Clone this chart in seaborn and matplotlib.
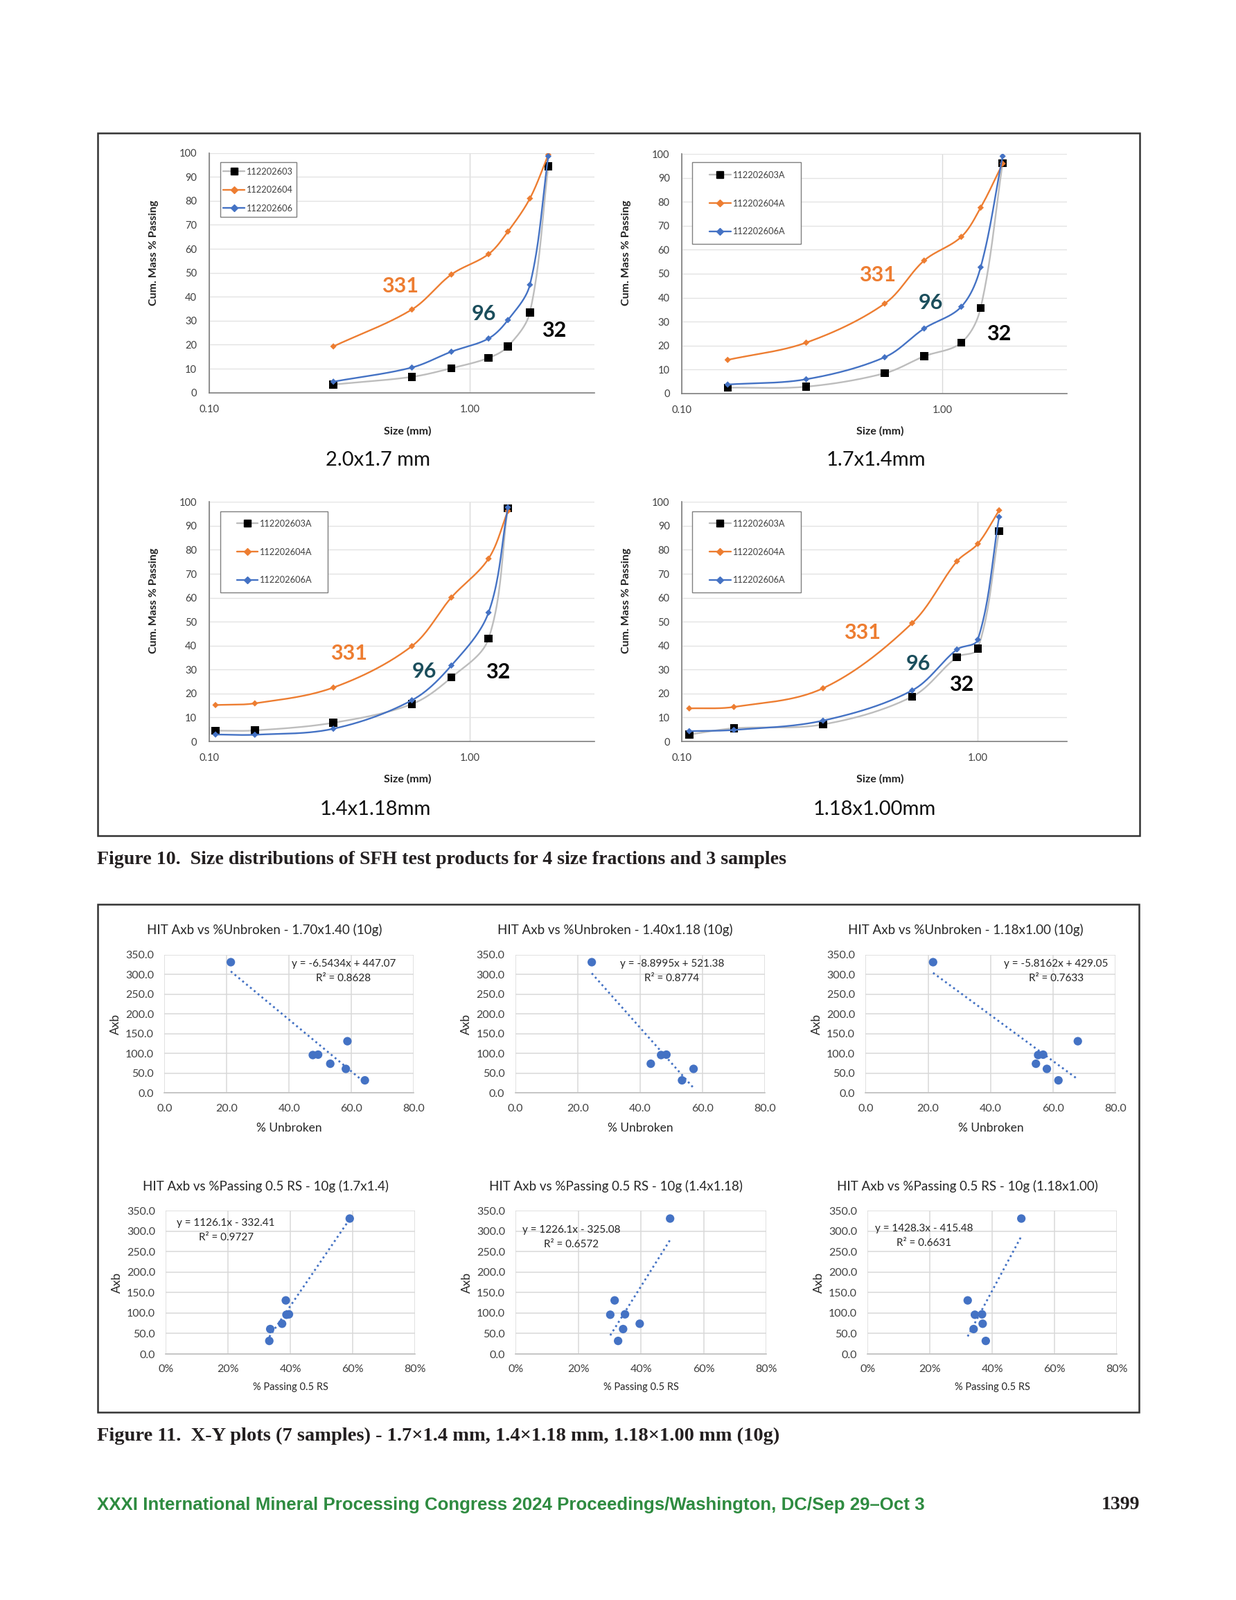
import numpy as np
import matplotlib
matplotlib.use("Agg")
import matplotlib.pyplot as plt
from matplotlib import font_manager
from matplotlib.lines import Line2D
from matplotlib.patches import Rectangle
from matplotlib.ticker import MultipleLocator, LogLocator, FixedLocator, FuncFormatter, PercentFormatter
import seaborn as sns

# -----------------------------
# Figure 10 data: cumulative % passing vs size (mm)
# -----------------------------
sizes_20x17 = [0.3, 0.6, 0.85, 1.18, 1.4, 1.7, 2.0]
p603_20x17 = [3.4, 6.6, 10.2, 14.5, 19.3, 33.5, 94.4]
p604_20x17 = [19.3, 34.7, 49.3, 57.8, 67.2, 81.0, 99.2]
p606_20x17 = [4.6, 10.5, 17.1, 22.6, 30.3, 45.0, 98.6]

sizes_17x14 = [0.15, 0.3, 0.6, 0.85, 1.18, 1.4, 1.7]
p603_17x14 = [2.4, 2.8, 8.4, 15.5, 21.2, 35.7, 96.2]
p604_17x14 = [14.0, 21.2, 37.5, 55.5, 65.4, 77.6, 96.0]
p606_17x14 = [3.7, 5.9, 15.1, 27.1, 36.2, 52.7, 99.1]

sizes_14x118 = [0.106, 0.15, 0.3, 0.6, 0.85, 1.18, 1.4]
p603_14x118 = [4.5, 4.6, 7.8, 15.6, 26.7, 42.9, 97.4]
p604_14x118 = [15.2, 15.9, 22.5, 39.8, 60.1, 76.3, 96.2]
p606_14x118 = [2.9, 2.8, 5.3, 17.2, 31.7, 53.8, 97.7]

sizes_118x100 = [0.106, 0.15, 0.3, 0.6, 0.85, 1.0, 1.18]
p603_118x100 = [2.9, 5.5, 7.1, 18.7, 35.2, 38.7, 87.8]
p604_118x100 = [13.8, 14.4, 22.2, 49.4, 75.2, 82.5, 96.5]
p606_118x100 = [4.3, 4.8, 8.7, 21.3, 38.4, 42.5, 93.7]

samples_plain = ["112202603", "112202604", "112202606"]
samples_a = ["112202603A", "112202604A", "112202606A"]
curve_labels = ["331", "96", "32"]

# -----------------------------
# Figure 11 data: Axb vs % unbroken / % passing 0.5 RS (7 samples)
# -----------------------------
axb = [331, 131, 96, 97, 74, 61, 32]
unbroken_170x140 = [21.3, 58.7, 47.6, 49.3, 53.2, 58.2, 64.3]
unbroken_140x118 = [24.5, np.nan, 46.7, 48.4, 43.4, 57.1, 53.4]
unbroken_118x100 = [21.6, 67.9, 55.2, 56.8, 54.5, 58.0, 61.7]
pass05_17x14 = [0.590, 0.385, 0.387, 0.395, 0.373, 0.335, 0.332]
pass05_14x118 = [0.493, 0.316, 0.302, 0.349, 0.396, 0.343, 0.327]
pass05_118x100 = [0.493, 0.321, 0.344, 0.367, 0.369, 0.340, 0.379]

eq_texts = ["y = -6.5434x + 447.07", "y = -8.8995x + 521.38", "y = -5.8162x + 429.05",
            "y = 1126.1x - 332.41", "y = 1226.1x - 325.08", "y = 1428.3x - 415.48"]
r2_texts = ["R² = 0.8628", "R² = 0.8774", "R² = 0.7633",
            "R² = 0.9727", "R² = 0.6572", "R² = 0.6631"]
scatter_titles = ["HIT Axb vs %Unbroken - 1.70x1.40 (10g)",
                  "HIT Axb vs %Unbroken - 1.40x1.18 (10g)",
                  "HIT Axb vs %Unbroken - 1.18x1.00 (10g)",
                  "HIT Axb vs %Passing 0.5 RS - 10g (1.7x1.4)",
                  "HIT Axb vs %Passing 0.5 RS - 10g (1.4x1.18)",
                  "HIT Axb vs %Passing 0.5 RS - 10g (1.18x1.00)"]

# -----------------------------
# Fonts / colours
# -----------------------------
sns.set_style("white")
names = {f.name for f in font_manager.fontManager.ttflist}
CAL = "Lato" if "Lato" in names else "DejaVu Sans"
plt.rcParams["font.family"] = [CAL, "DejaVu Sans"]

ORANGE = "#ED7D31"
BLUE = "#4472C4"
GREY = "#BDBDBD"
TEAL = "#1B4E5C"
TXT = "#404040"

W, H = 1784, 2309
fig = plt.figure(figsize=(W / 100, H / 100), dpi=100)


def fx(px):
    return px / W


def fy(py):
    return 1 - py / H


def smooth(xs, ys, xlim, wpx, hpx, n=40):
    # Excel-like smoothed line: bezier with tangent handles scaled to segment length,
    # worked out in pixel space of the axes (log x)
    lx0, lx1 = np.log10(xlim[0]), np.log10(xlim[1])
    u = (np.log10(xs) - lx0) / (lx1 - lx0) * wpx
    v = np.asarray(ys, dtype=float) / 100 * hpx
    p = np.column_stack([u, v])
    m = len(p)
    tang = np.zeros_like(p)
    for i in range(m):
        a = p[max(i - 1, 0)]
        c = p[min(i + 1, m - 1)]
        d = c - a
        tang[i] = d / np.hypot(*d)
    t = np.linspace(0, 1, n)[:, None]
    out = []
    for i in range(m - 1):
        p1, p2 = p[i], p[i + 1]
        seglen = np.hypot(*(p2 - p1))
        c1 = p1 + tang[i] * seglen / 3
        c2 = p2 - tang[i + 1] * seglen / 3
        seg = (1 - t) ** 3 * p1 + 3 * (1 - t) ** 2 * t * c1 + 3 * (1 - t) * t ** 2 * c2 + t ** 3 * p2
        out.append(seg if i == 0 else seg[1:])
    pts = np.vstack(out)
    xs_s = 10 ** (pts[:, 0] / wpx * (lx1 - lx0) + lx0)
    ys_s = pts[:, 1] / hpx * 100
    return xs_s, ys_s


# -----------------------------
# Figure 10 panels
# -----------------------------
psd_panels = [
    dict(rect=(301.5, 220.7, 857.7, 566.7), xmax=3.0, sizes=sizes_20x17,
         series=[p603_20x17, p604_20x17, p606_20x17], names=samples_plain,
         lab=[(0.542, 44.3), (1.13, 32.8), (2.10, 26.0)],
         box=(317.7, 234.3, 427.5, 313.3), leg=(322.3, 241.5), legsp=1.15,
         ylab=(222, 365), xlab=(588, 622), sub=(546, 664), subtitle="2.0x1.7 mm"),
    dict(rect=(984, 222.3, 1540, 567.7), xmax=3.0, sizes=sizes_17x14,
         series=[p603_17x14, p604_17x14, p606_17x14], names=samples_a,
         lab=[(0.562, 49.5), (0.904, 37.7), (1.64, 24.7)],
         box=(999, 234.3, 1156, 352.3), leg=(1024, 246.8), legsp=2.25,
         ylab=(904, 365), xlab=(1270, 622), sub=(1264, 664), subtitle="1.7x1.4mm"),
    dict(rect=(301.5, 724.3, 857.7, 1070), xmax=3.0, sizes=sizes_14x118,
         series=[p603_14x118, p604_14x118, p606_14x118], names=samples_a,
         lab=[(0.344, 36.6), (0.668, 29.1), (1.28, 28.9)],
         box=(317.7, 737.7, 473.2, 855.3), leg=(341.7, 749.8), legsp=2.25,
         ylab=(222, 867), xlab=(588, 1124), sub=(541.5, 1168), subtitle="1.4x1.18mm"),
    dict(rect=(984, 724.3, 1540, 1070), xmax=2.0, sizes=sizes_118x100,
         series=[p603_118x100, p604_118x100, p606_118x100], names=samples_a,
         lab=[(0.406, 45.5), (0.629, 32.5), (0.881, 23.6)],
         box=(999, 737.7, 1156, 855.3), leg=(1024, 749.8), legsp=2.25,
         ylab=(904, 867), xlab=(1270, 1124), sub=(1262.5, 1168), subtitle="1.18x1.00mm"),
]

line_cols = [GREY, ORANGE, BLUE]
mark_cols = ["black", ORANGE, BLUE]
mark_shapes = ["s", "D", "D"]
mark_sizes = [68, 22, 22]
label_cols = [ORANGE, TEAL, "black"]

for p in psd_panels:
    l, t, r, b = p["rect"]
    ax = fig.add_axes([fx(l), fy(b), fx(r - l), (b - t) / H])
    ax.set_xscale("log")
    for k, ys in enumerate(p["series"]):
        sx, sy = smooth(p["sizes"], ys, (0.1, p["xmax"]), r - l, b - t)
        sns.lineplot(x=sx, y=sy, sort=False, estimator=None, color=line_cols[k],
                     linewidth=1.7, ax=ax, legend=False, zorder=3 + 2 * k)
        sns.scatterplot(x=p["sizes"], y=ys, marker=mark_shapes[k], s=mark_sizes[k],
                        color=mark_cols[k], edgecolor="none", ax=ax, legend=False,
                        zorder=4 + 2 * k)
    ax.set_xlim(0.1, p["xmax"])
    ax.set_ylim(0, 100)
    ax.xaxis.set_major_locator(FixedLocator([0.1, 1.0]))
    ax.xaxis.set_major_formatter(FuncFormatter(lambda v, pos: f"{v:.2f}"))
    ax.xaxis.set_minor_locator(LogLocator(base=10, subs=np.arange(2, 10)))
    ax.xaxis.set_minor_formatter(FuncFormatter(lambda v, pos: ""))
    ax.yaxis.set_major_locator(MultipleLocator(10))
    ax.yaxis.set_minor_locator(MultipleLocator(2))
    ax.grid(axis="y", which="major", color="#E3E3E3", linewidth=1.0)
    ax.grid(axis="x", which="major", color="#D9D9D9", linewidth=1.0)
    for s in ["top", "right"]:
        ax.spines[s].set_visible(False)
    for s in ["left", "bottom"]:
        ax.spines[s].set_color("#7F7F7F")
        ax.spines[s].set_linewidth(1.2)
    ax.tick_params(which="major", direction="inout", length=7, width=1.0, color="#7F7F7F",
                   labelsize=10.5, labelcolor=TXT, pad=9)
    ax.tick_params(which="minor", direction="in", length=4, width=0.9, color="#7F7F7F")
    ax.tick_params(axis="x", which="major", pad=9)
    ax.set_xlabel("")
    ax.set_ylabel("")
    # curve labels (Axb values)
    for k, (lx, ly) in enumerate(p["lab"]):
        ax.text(lx, ly, curve_labels[k], color=label_cols[k], fontsize=22,
                fontweight="bold", ha="center", va="center", zorder=10)
    # legend frame and entries
    bx0, by0, bx1, by1 = p["box"]
    ax.add_patch(Rectangle((fx(bx0), fy(by1)), fx(bx1 - bx0), (by1 - by0) / H,
                           facecolor="white", edgecolor="#7F7F7F", linewidth=1.0,
                           transform=fig.transFigure, clip_on=False, zorder=15))
    handles = [Line2D([], [], color=line_cols[k], lw=1.7, marker=mark_shapes[k],
                      markersize=6.5 if k == 0 else 4.8, markerfacecolor=mark_cols[k],
                      markeredgecolor=mark_cols[k]) for k in range(3)]
    leg = ax.legend(handles, p["names"], loc="upper left",
                    bbox_to_anchor=(fx(p["leg"][0]), fy(p["leg"][1])),
                    bbox_transform=fig.transFigure, borderaxespad=0, borderpad=0,
                    frameon=False, prop={"size": 9.2}, handlelength=2.4,
                    handletextpad=0.15, labelspacing=p["legsp"])
    leg.set_zorder(20)
    for txt in leg.get_texts():
        txt.set_color(TXT)
    fig.text(fx(p["ylab"][0]), fy(p["ylab"][1]), "Cum. Mass % Passing", rotation=90,
             ha="center", va="center", fontsize=11.5, fontweight="bold", color="#222222")
    fig.text(fx(p["xlab"][0]), fy(p["xlab"][1]), "Size (mm)", ha="center", va="center",
             fontsize=11.5, fontweight="bold", color="#222222")
    fig.text(fx(p["sub"][0]), fy(p["sub"][1]), p["subtitle"], ha="center", va="center",
             fontsize=21, color="#111111")

# -----------------------------
# Figure 11 panels
# -----------------------------
xy_panels = [
    dict(rect=(237.3, 1377.7, 597.3, 1577.3), x=unbroken_170x140, pct=False,
         eq=(57.5, 327, 289), title=(382, 1342), xlab=(417, 1628)),
    dict(rect=(743.7, 1377.7, 1104.3, 1577.3), x=unbroken_140x118, pct=False,
         eq=(50.2, 327, 289), title=(888, 1342), xlab=(924, 1628)),
    dict(rect=(1249.3, 1377.7, 1610.3, 1577.3), x=unbroken_118x100, pct=False,
         eq=(60.9, 326, 289), title=(1394, 1342), xlab=(1430, 1628)),
    dict(rect=(239.3, 1747.3, 599.3, 1954), x=pass05_17x14, pct=True,
         eq=(0.193, 320, 285), title=(383, 1712), xlab=(419, 2002)),
    dict(rect=(744.3, 1747.3, 1106, 1954), x=pass05_14x118, pct=True,
         eq=(0.178, 303, 268), title=(889, 1712), xlab=(925, 2002)),
    dict(rect=(1252.3, 1747.3, 1612.3, 1954), x=pass05_118x100, pct=True,
         eq=(0.181, 306, 271), title=(1396, 1712), xlab=(1432, 2002)),
]

for i, p in enumerate(xy_panels):
    l, t, r, b = p["rect"]
    ax = fig.add_axes([fx(l), fy(b), fx(r - l), (b - t) / H])
    sns.regplot(x=np.array(p["x"], dtype=float), y=np.array(axb, dtype=float), ax=ax, ci=None,
                truncate=True,
                scatter_kws={"s": 78, "color": BLUE, "alpha": 1, "edgecolor": "none", "zorder": 3},
                line_kws={"color": BLUE, "linestyle": (0, (1, 1.6)), "linewidth": 2.0,
                          "alpha": 1, "zorder": 4})
    xmax = 0.8 if p["pct"] else 80
    ax.set_xlim(0, xmax)
    ax.set_ylim(0, 350)
    ax.xaxis.set_major_locator(MultipleLocator(xmax / 4))
    ax.yaxis.set_major_locator(MultipleLocator(50))
    if p["pct"]:
        ax.xaxis.set_major_formatter(PercentFormatter(1.0, decimals=0))
    else:
        ax.xaxis.set_major_formatter(FuncFormatter(lambda v, pos: f"{v:.1f}"))
    ax.yaxis.set_major_formatter(FuncFormatter(lambda v, pos: f"{v:.1f}"))
    ax.grid(True, color="#D9D9D9", linewidth=1.1)
    ax.set_axisbelow(True)
    for s in ["top", "right", "left"]:
        ax.spines[s].set_visible(False)
    ax.spines["bottom"].set_color("#BFBFBF")
    ax.spines["bottom"].set_linewidth(1.2)
    ax.tick_params(length=0, labelsize=11.5, labelcolor=TXT, pad=11)
    ax.set_xlabel("")
    ax.set_ylabel("")
    ex, ey1, ey2 = p["eq"]
    ax.text(ex, ey1, eq_texts[i], ha="center", va="center", fontsize=11, color="#262626")
    ax.text(ex, ey2, r2_texts[i], ha="center", va="center", fontsize=11, color="#262626")
    fig.text(fx(p["title"][0]), fy(p["title"][1]), scatter_titles[i], ha="center", va="center",
             fontsize=13.5, color="#262626")
    fig.text(fx(l - 70.5), fy((t + b) / 2), "Axb", rotation=90, ha="center", va="center",
             fontsize=12.5, color="#262626")
    if p["pct"]:
        fig.text(fx(p["xlab"][0]), fy(p["xlab"][1]), "% Passing 0.5 RS", ha="center",
                 va="center", fontsize=10.5, color="#262626")
    else:
        fig.text(fx(p["xlab"][0]), fy(p["xlab"][1]), "% Unbroken", ha="center",
                 va="center", fontsize=12.5, color="#262626")

# -----------------------------
# Page furniture: frames, captions, footer
# -----------------------------
for (x0, y0, x1, y1) in [(141, 192, 1645, 1206), (141, 1305, 1644, 2038)]:
    fig.add_artist(Rectangle((fx(x0), fy(y1)), fx(x1 - x0), (y1 - y0) / H, fill=False,
                             linewidth=1.8, edgecolor="#333333", transform=fig.transFigure))

fig.text(fx(140), fy(1240), "Figure 10.  Size distributions of SFH test products for 4 size fractions and 3 samples",
         ha="left", va="center", fontsize=20.1, fontweight="bold", family="Liberation Serif",
         color="#231F20")
fig.text(fx(140), fy(2072), "Figure 11.  X-Y plots (7 samples) - 1.7×1.4 mm, 1.4×1.18 mm, 1.18×1.00 mm (10g)",
         ha="left", va="center", fontsize=20.5, fontweight="bold", family="Liberation Serif",
         color="#231F20")
fig.text(fx(140), fy(2172), "XXXI International Mineral Processing Congress 2024 Proceedings/Washington, DC/Sep 29–Oct 3",
         ha="left", va="center", fontsize=18.6, fontweight="bold", family="Liberation Sans",
         color="#2E8B40")
fig.text(fx(1645), fy(2172), "1399", ha="right", va="center", fontsize=20,
         fontweight="bold", family="Liberation Serif", color="#231F20")

fig.savefig("out.png", dpi=100, facecolor="white")
plt.close(fig)
